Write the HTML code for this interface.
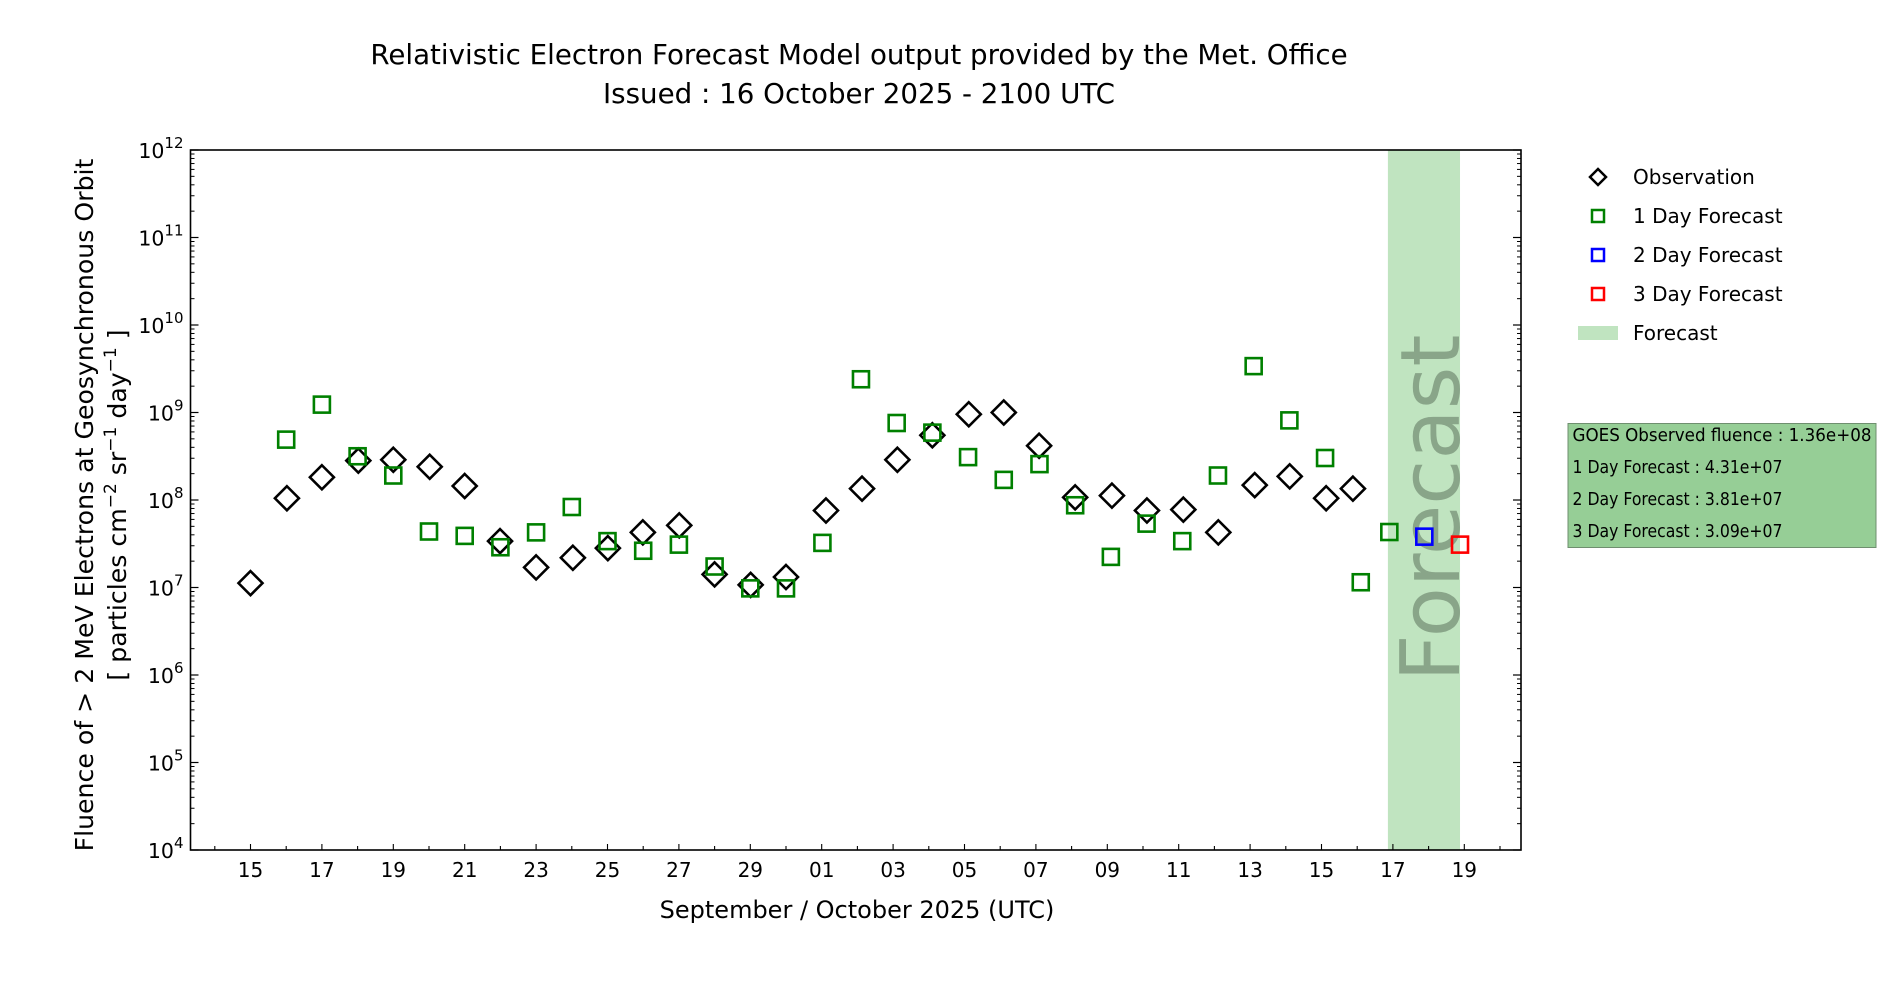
<!DOCTYPE html>
<html><head><meta charset="utf-8"><title>REFM Forecast</title>
<style>
html,body{margin:0;padding:0;background:#fff;}
svg{display:block;font-family:"DejaVu Sans","Liberation Sans",sans-serif;}
</style></head>
<body>
<svg id="chart" width="1900" height="1000" viewBox="0 0 1900 1000">
  <text x="859" y="64" font-size="27.7" text-anchor="middle">Relativistic Electron Forecast Model output provided by the Met. Office</text>
  <text x="859" y="103" font-size="27.7" text-anchor="middle">Issued : 16 October 2025 - 2100 UTC</text>
  <g id="plot"></g>
  <text transform="translate(93,505) rotate(-90)" font-size="25.2" text-anchor="middle">Fluence of &gt; 2 MeV Electrons at Geosynchronous Orbit</text>
  <text transform="translate(126,505) rotate(-90)" font-size="25.2" text-anchor="middle">[ particles cm<tspan font-size="17" dy="-10">−2</tspan><tspan dy="10"> sr</tspan><tspan font-size="17" dy="-10">−1</tspan><tspan dy="10"> day</tspan><tspan font-size="17" dy="-10">−1</tspan><tspan dy="10"> ]</tspan></text>
  <text x="857" y="918" font-size="24" text-anchor="middle">September / October 2025 (UTC)</text>
  <g transform="translate(-8,0)">
    <g>
      <path d="M1606,169 L1614,177 L1606,185 L1598,177 Z" fill="none" stroke="#000" stroke-width="2.5"/>
      <text x="1641" y="184" font-size="20">Observation</text>
    </g>
    <g>
      <rect x="1600" y="210" width="12" height="12" fill="none" stroke="#008000" stroke-width="2.5"/>
      <text x="1641" y="223" font-size="20">1 Day Forecast</text>
    </g>
    <g>
      <rect x="1600" y="249" width="12" height="12" fill="none" stroke="#0000ff" stroke-width="2.5"/>
      <text x="1641" y="262" font-size="20">2 Day Forecast</text>
    </g>
    <g>
      <rect x="1600" y="288" width="12" height="12" fill="none" stroke="#ff0000" stroke-width="2.5"/>
      <text x="1641" y="301" font-size="20">3 Day Forecast</text>
    </g>
    <g>
      <rect x="1586" y="326" width="40" height="14" fill="#c0e4c0"/>
      <text x="1641" y="340" font-size="20">Forecast</text>
    </g>
  </g>
  <g transform="translate(-8.5,0)">
    <rect x="1576.5" y="423.5" width="308" height="124" fill="#96ce96" stroke="#6f8f6f" stroke-width="1"/>
    <text x="1581" y="441" font-size="18" textLength="299" lengthAdjust="spacingAndGlyphs">GOES Observed fluence : 1.36e+08</text>
    <text x="1581" y="473" font-size="18" textLength="210" lengthAdjust="spacingAndGlyphs">1 Day Forecast : 4.31e+07</text>
    <text x="1581" y="505" font-size="18" textLength="210" lengthAdjust="spacingAndGlyphs">2 Day Forecast : 3.81e+07</text>
    <text x="1581" y="537" font-size="18" textLength="210" lengthAdjust="spacingAndGlyphs">3 Day Forecast : 3.09e+07</text>
  </g>
</svg>
<script>
// data: day offset from 15 Sep 2025, log10 fluence
const obsDays = [0,1.02,2,3.02,4,5.02,6,6.99,8,9.03,10.01,10.99,12.01,13,14.01,15,16.12,17.13,18.12,19.1,20.12,21.1,22.09,23.1,24.13,25.11,26.13,27.11,28.13,29.11,30.13,30.88];
const obsLog = [7.05,8.02,8.26,8.45,8.46,8.38,8.16,7.53,7.23,7.34,7.45,7.63,7.71,7.15,7.03,7.12,7.88,8.13,8.46,8.74,8.98,9.0,8.62,8.03,8.05,7.88,7.89,7.63,8.17,8.27,8.02,8.13];
const f1Days = [1,2,3,4,5,6,7,8,9,10,11,12,13,14,15,16.02,17.1,18.1,19.1,20.1,21.1,22.1,23.1,24.1,25.1,26.1,27.1,28.1,29.1,30.1,31.1,31.9];
const f1Log = [8.69,9.09,8.5,8.28,7.64,7.59,7.46,7.63,7.92,7.53,7.42,7.49,7.24,6.99,6.99,7.51,9.38,8.88,8.77,8.49,8.23,8.41,7.94,7.35,7.73,7.53,8.28,9.53,8.91,8.48,7.06,7.634];
const f2Days = [32.88];
const f2Log = [7.581];
const f3Days = [33.88];
const f3Log = [7.49];
const bandDays = [31.86, 33.88];
const xTickDays = [0,2,4,6,8,10,12,14,16,18,20,22,24,26,28,30,32,34];
const xTickLabels = ["15","17","19","21","23","25","27","29","01","03","05","07","09","11","13","15","17","19"];
const yTickExps = [4,5,6,7,8,9,10,11,12];

const L=190.5,R=1521,T=150,B=850;
const X0=250.5, DX=35.7;
function xs(d){return X0+DX*d;}
function ys(l){return B-(l-4)*(B-T)/8;}
const NS="http://www.w3.org/2000/svg";
const plot=document.getElementById('plot');
function el(tag,attrs,parent){const e=document.createElementNS(NS,tag);for(const k in attrs)e.setAttribute(k,attrs[k]);(parent||plot).appendChild(e);return e;}

// forecast band
const band=el('rect',{x:xs(bandDays[0]),y:T,width:xs(bandDays[1])-xs(bandDays[0]),height:B-T,fill:'#c0e4c0'});


const bt=el('text',{x:0,y:0,'font-size':'82','fill':'#7f9a7f','fill-opacity':'0.85','text-anchor':'middle',transform:'translate('+(xs(bandDays[1])-1)+',508) rotate(-90)'});
bt.textContent='Forecast';



// axes frame
const frame=el('rect',{x:L,y:T,width:R-L,height:B-T,fill:'none',stroke:'#000','stroke-width':'1.6'});



// y ticks
yTickExps.forEach(function(e){
  const y=ys(e);
  el('line',{x1:L,x2:L+8,y1:y,y2:y,stroke:'#000','stroke-width':'1.2'});
  el('line',{x1:R,x2:R-8,y1:y,y2:y,stroke:'#000','stroke-width':'1.2'});
  const t=el('text',{x:L-7,y:y+8,'font-size':'20.5','text-anchor':'end'});
  
  
  const a=document.createElementNS(NS,'tspan');a.textContent='10';t.appendChild(a);
  const b=document.createElementNS(NS,'tspan');b.setAttribute('font-size','15');b.setAttribute('dy','-10');b.textContent=String(e);t.appendChild(b);
  if(e<12){for(let m=2;m<10;m++){const yy=ys(e+Math.log10(m));
    el('line',{x1:L,x2:L+4,y1:yy,y2:yy,stroke:'#000','stroke-width':'1'});
    el('line',{x1:R,x2:R-4,y1:yy,y2:yy,stroke:'#000','stroke-width':'1'});}}
});
// x ticks
for(let d=-1;d<=35;d++){const x=xs(d);if(x<L||x>R)continue;
  el('line',{x1:x,x2:x,y1:B,y2:B-(d%2===0?6:4),stroke:'#000','stroke-width':'1.1'});}
xTickDays.forEach(function(d,i){
  const t=el('text',{x:xs(d),y:B+27,'font-size':'20','text-anchor':'middle'});
  t.textContent=xTickLabels[i];
  
  
});

function squares(days,logs,color,name){
  days.forEach(function(d,i){
    const r=el('rect',{x:xs(d)-8,y:ys(logs[i])-8,width:16,height:16,fill:'none',stroke:color,'stroke-width':'2.6'});
    
    
  });
}
// observations
obsDays.forEach(function(d,i){
  const x=xs(d),y=ys(obsLog[i]),s=12;
  const p=el('path',{d:'M'+x+','+(y-s)+' L'+(x+s)+','+y+' L'+x+','+(y+s)+' L'+(x-s)+','+y+' Z',fill:'none',stroke:'#000','stroke-width':'2.6'});
  
  
});
squares(f1Days,f1Log,'#008000','forecast-1-day-point');
squares(f2Days,f2Log,'#0000ff','forecast-2-day-point');
squares(f3Days,f3Log,'#ff0000','forecast-3-day-point');
</script>
</body></html>
